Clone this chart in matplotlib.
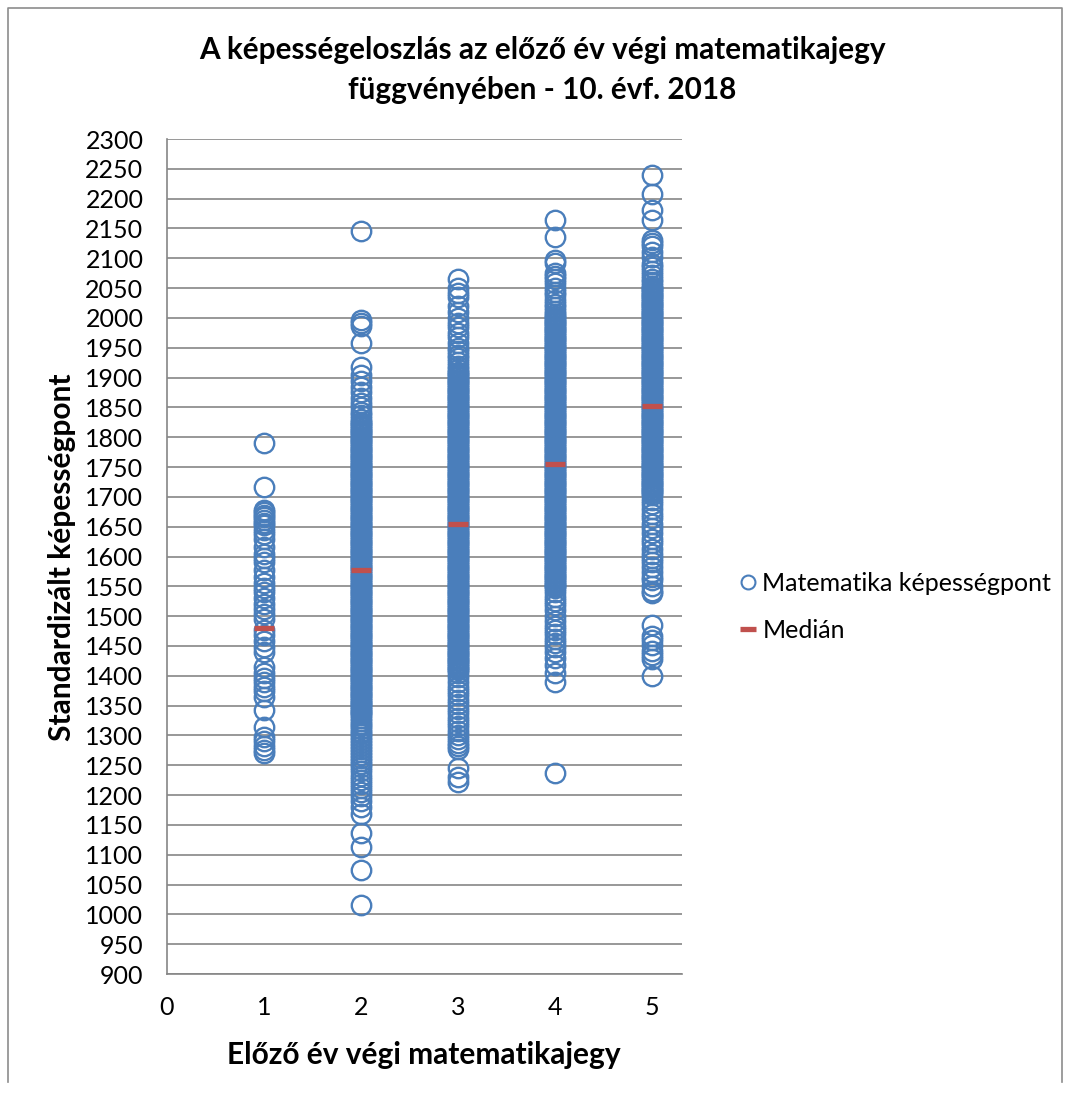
import matplotlib
matplotlib.use("Agg")
import matplotlib.pyplot as plt
from matplotlib.lines import Line2D

plt.rcParams['font.family'] = ['Lato', 'DejaVu Sans']

title_text = "A képességeloszlás az előző év végi matematikajegy\nfüggvényében - 10. évf. 2018"
x_label = "Előző év végi matematikajegy"
y_label = "Standardizált képességpont"
series_names = ["Matematika képességpont", "Medián"]

grades = [1, 2, 3, 4, 5]
medians = [1480, 1577, 1655, 1755, 1852]

scores_1 = [1790, 1717, 1678, 1674, 1670, 1666, 1662, 1657, 1652, 1645, 1638, 1630,
            1616, 1605, 1598, 1590, 1577, 1565, 1556, 1548, 1540, 1530, 1520, 1512,
            1503, 1495, 1477, 1468, 1458, 1448, 1440, 1415, 1405, 1397, 1390, 1382,
            1375, 1365, 1343, 1314, 1298, 1290, 1282, 1276, 1270]

scores_2 = [2145, 1997, 1992, 1987, 1958, 1918, 1905, 1895, 1885, 1875, 1866, 1858,
            1850, 1843, 1837, 1831,
            1826, 1823, 1820, 1817, 1814, 1811, 1808, 1805, 1802, 1799, 1796, 1793,
            1790, 1787, 1784, 1781, 1778, 1775, 1772, 1769, 1766, 1763, 1760, 1757,
            1754, 1751, 1748, 1745, 1742, 1739, 1736, 1733, 1730, 1727, 1724, 1721,
            1718, 1715, 1712, 1709, 1706, 1703, 1700, 1697, 1694, 1691, 1688, 1685,
            1682, 1679, 1676, 1673, 1670, 1667, 1664, 1661, 1658, 1655, 1652, 1649,
            1646, 1643, 1640, 1637, 1634, 1631, 1628, 1625, 1622, 1619, 1616, 1613,
            1610, 1607, 1604, 1601, 1598, 1595, 1592, 1589, 1586, 1583, 1580, 1577,
            1574, 1571, 1568, 1565, 1562, 1559, 1556, 1553, 1550, 1547, 1544, 1541,
            1538, 1535, 1532, 1529, 1526, 1523, 1520, 1517, 1514, 1511, 1508, 1505,
            1502, 1499, 1496, 1493, 1490, 1487, 1484, 1481, 1478, 1475, 1472, 1469,
            1466, 1463, 1460, 1457, 1454, 1451, 1448, 1445, 1442, 1439, 1436, 1433,
            1430, 1427, 1424, 1421, 1418, 1415, 1412, 1409, 1406, 1403, 1400, 1397,
            1394, 1391, 1388, 1385, 1382, 1379, 1376, 1373, 1370, 1367, 1364, 1361,
            1358, 1355, 1352, 1349, 1346, 1343, 1340, 1337, 1334,
            1329, 1325, 1320, 1316, 1311, 1306, 1302, 1297, 1292, 1287, 1282, 1277,
            1272, 1267, 1262, 1257, 1252, 1247, 1240, 1232, 1225, 1218, 1212, 1205,
            1198, 1190, 1180, 1168, 1136, 1113, 1074, 1016]

scores_3 = [2066, 2050, 2042, 2035, 2020, 2010, 2000, 1992, 1985, 1975, 1968, 1958,
            1950, 1944, 1938, 1932, 1926, 1920, 1914, 1910,
            1907, 1904, 1901, 1898, 1895, 1892, 1889, 1886, 1883, 1880, 1877, 1874,
            1871, 1868, 1865, 1862, 1859, 1856, 1853, 1850, 1847, 1844, 1841, 1838,
            1835, 1832, 1829,
            1826, 1823, 1820, 1817, 1814, 1811, 1808, 1805, 1802, 1799, 1796, 1793,
            1790, 1787, 1784, 1781, 1778, 1775, 1772, 1769, 1766, 1763, 1760, 1757,
            1754, 1751, 1748, 1745, 1742, 1739, 1736, 1733, 1730, 1727, 1724, 1721,
            1718, 1715, 1712, 1709, 1706, 1703, 1700, 1697, 1694, 1691, 1688, 1685,
            1682, 1679, 1676, 1673, 1670, 1667, 1664, 1661, 1658, 1655, 1652, 1649,
            1646, 1643, 1640, 1637, 1634, 1631, 1628, 1625, 1622, 1619, 1616, 1613,
            1610, 1607, 1604, 1601, 1598, 1595, 1592, 1589, 1586, 1583, 1580, 1577,
            1574, 1571, 1568, 1565, 1562, 1559, 1556, 1553, 1550, 1547, 1544, 1541,
            1538, 1535, 1532, 1529, 1526, 1523, 1520, 1517, 1514, 1511, 1508, 1505,
            1502, 1499, 1496, 1493, 1490, 1487, 1484, 1481, 1478, 1475, 1472, 1469,
            1466, 1463, 1460, 1457, 1454, 1451, 1448, 1445, 1442, 1439, 1436, 1433,
            1430, 1427, 1424, 1421, 1418, 1415, 1412, 1409,
            1404, 1398, 1390, 1382, 1375, 1368, 1360, 1352, 1345, 1338, 1330, 1322,
            1315, 1308, 1300, 1294, 1288, 1282, 1278, 1245, 1230, 1222]

scores_4 = [2164, 2135, 2097, 2092, 2075, 2070, 2065, 2058, 2050, 2044, 2038, 2030,
            2024, 2018, 2012, 2006,
            2003, 2000, 1997, 1994, 1991, 1988, 1985, 1982, 1979, 1976, 1973, 1970,
            1967, 1964, 1961, 1958, 1955, 1952, 1949, 1946, 1943, 1940, 1937, 1934,
            1931, 1928, 1925, 1922, 1919, 1916, 1913, 1910,
            1907, 1904, 1901, 1898, 1895, 1892, 1889, 1886, 1883, 1880, 1877, 1874,
            1871, 1868, 1865, 1862, 1859, 1856, 1853, 1850, 1847, 1844, 1841, 1838,
            1835, 1832, 1829,
            1826, 1823, 1820, 1817, 1814, 1811, 1808, 1805, 1802, 1799, 1796, 1793,
            1790, 1787, 1784, 1781, 1778, 1775, 1772, 1769, 1766, 1763, 1760, 1757,
            1754, 1751, 1748, 1745, 1742, 1739, 1736, 1733, 1730, 1727, 1724, 1721,
            1718, 1715, 1712, 1709, 1706, 1703, 1700, 1697, 1694, 1691, 1688, 1685,
            1682, 1679, 1676, 1673, 1670, 1667, 1664, 1661, 1658, 1655, 1652, 1649,
            1646, 1643, 1640, 1637, 1634, 1631, 1628, 1625, 1622, 1619, 1616, 1613,
            1610, 1607, 1604, 1601, 1598, 1595, 1592, 1589, 1586, 1583, 1580, 1577,
            1574, 1571, 1568, 1565, 1562, 1559, 1556, 1553, 1550, 1547,
            1540, 1532, 1525, 1518, 1510, 1500, 1492, 1484, 1476, 1470, 1462, 1455,
            1448, 1440, 1430, 1418, 1405, 1390, 1237]

scores_5 = [2240, 2208, 2181, 2165, 2130, 2125, 2120, 2110, 2102, 2090, 2085, 2078,
            2072, 2066, 2060, 2054,
            2051, 2048, 2045, 2042, 2039, 2036, 2033, 2030, 2027, 2024, 2021, 2018,
            2015, 2012, 2009, 2006,
            2003, 2000, 1997, 1994, 1991, 1988, 1985, 1982, 1979, 1976, 1973, 1970,
            1967, 1964, 1961, 1958, 1955, 1952, 1949, 1946, 1943, 1940, 1937, 1934,
            1931, 1928, 1925, 1922, 1919, 1916, 1913, 1910,
            1907, 1904, 1901, 1898, 1895, 1892, 1889, 1886, 1883, 1880, 1877, 1874,
            1871, 1868, 1865, 1862, 1859, 1856, 1853, 1850, 1847, 1844, 1841, 1838,
            1835, 1832, 1829,
            1826, 1823, 1820, 1817, 1814, 1811, 1808, 1805, 1802, 1799, 1796, 1793,
            1790, 1787, 1784, 1781, 1778, 1775, 1772, 1769, 1766, 1763, 1760, 1757,
            1754, 1751, 1748, 1745, 1742, 1739, 1736, 1733, 1730, 1727, 1724, 1721,
            1718, 1715, 1712, 1709, 1706, 1703,
            1695, 1688, 1680, 1672, 1665, 1655, 1648, 1640, 1630, 1622, 1612, 1605,
            1598, 1590, 1582, 1574, 1566, 1560, 1550, 1542, 1538,
            1485, 1466, 1460, 1452, 1442, 1435, 1428, 1400]

all_scores = [scores_1, scores_2, scores_3, scores_4, scores_5]

y_ticks = list(range(900, 2301, 50))
x_ticks = [0, 1, 2, 3, 4, 5]

BLUE = '#4A7EBB'
RED = '#C0504D'
GRID = '#868686'

W, H = 1067, 1097
fig = plt.figure(figsize=(W / 100, H / 100), dpi=100)
ax = fig.add_axes([167 / W, 1 - 974 / H, (682 - 167) / W, (974 - 139) / H])

for g, sc in zip(grades, all_scores):
    ax.plot([g] * len(sc), sc, linestyle='none', marker='o', markersize=14,
            markerfacecolor='none', markeredgecolor=BLUE, markeredgewidth=1.7,
            zorder=3)
ax.plot(grades, medians, linestyle='none', marker='_', markersize=14.5,
        markeredgewidth=3.8, color=RED, zorder=4)

ax.set_xlim(0, 5.31)
ax.set_ylim(900, 2300)
ax.set_xticks(x_ticks)
ax.set_yticks(y_ticks)
ax.tick_params(axis='both', length=0, labelsize=18, colors='black')
ax.tick_params(axis='x', pad=16)
ax.tick_params(axis='y', pad=17)
ax.grid(axis='y', color=GRID, linewidth=1.2)
ax.set_axisbelow(True)
for s in ['top', 'right']:
    ax.spines[s].set_visible(False)
for s in ['left', 'bottom']:
    ax.spines[s].set_color(GRID)
    ax.spines[s].set_linewidth(1.2)

fig.text(542 / W, 1 - 70 / H, title_text, ha='center', va='center',
         fontsize=21.4, fontweight='bold', linespacing=1.55)
fig.text(62 / W, 1 - 557 / H, y_label, ha='center', va='center', rotation=90,
         fontsize=21.5, fontweight='bold')
fig.text(424 / W, 1 - 1055 / H, x_label, ha='center', va='center',
         fontsize=21.5, fontweight='bold')

handles = [Line2D([], [], linestyle='none', marker='o', markersize=10,
                  markerfacecolor='none', markeredgecolor=BLUE, markeredgewidth=1.5),
           Line2D([], [], linestyle='none', marker='_', markersize=12,
                  markeredgewidth=3.8, color=RED)]
fig.legend(handles, series_names, loc='center left',
           bbox_to_anchor=(735 / W, 1 - 607 / H), frameon=False, fontsize=18,
           handletextpad=0.1, handlelength=1.0, labelspacing=0.95,
           borderaxespad=0, borderpad=0)

border = dict(color='#8C8C8C', linewidth=1.2, transform=fig.transFigure)
fig.add_artist(Line2D([8 / W, 8 / W, 1062 / W, 1062 / W],
                      [1 - 1082 / H, 1 - 8 / H, 1 - 8 / H, 1 - 1082 / H], **border))

fig.savefig('out.png', dpi=100)
